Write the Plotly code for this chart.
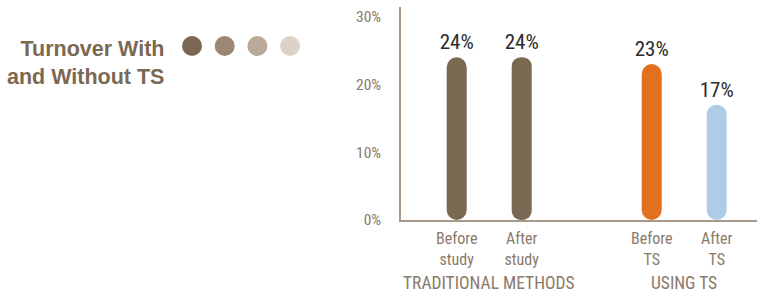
import plotly.graph_objects as go

# ---- data ----
categories = ["Before<br>study", "After<br>study", "Before<br>TS", "After<br>TS"]
positions = [0, 1, 3, 4]
values = [24, 24, 23, 17]
groups = ["TRADITIONAL METHODS", "USING TS"]
group_members = [[0, 1], [2, 3]]
bar_colors = ["#7b6852", "#7b6852", "#e2701f", "#aecbe8"]
dot_colors = ["#7b6852", "#9b8773", "#baa999", "#ddd2c8"]
y_ticks = [0, 10, 20, 30]
title_text = "Turnover With<br>and Without TS"

W, H = 757, 294
x_left_px, y_top_px, y_bot_px = 401, 7, 220
px_per_unit_x = 65.0
first_center_px = 456.7
y_max = 31.4
bar_px = 20

x0 = -(first_center_px - x_left_px) / px_per_unit_x
x1 = x0 + (W - x_left_px) / px_per_unit_x

label_col = "#8a7a6a"
font_fam = "Liberation Sans Narrow, Roboto Condensed, Liberation Sans, Arial, sans-serif"

fig = go.Figure()
# explicit base -> plotly rounds both ends of the bar (pill shape)
fig.add_trace(go.Bar(
    x=positions, y=values, base=[0] * len(values),
    marker=dict(color=bar_colors, line=dict(width=0)),
    width=bar_px / px_per_unit_x,
    text=[f"{v}%" for v in values], textposition="outside", constraintext="none",
    textfont=dict(size=21, color="#2b2b2b", family=font_fam),
    cliponaxis=False, hoverinfo="skip",
))
dot_step = 32.7
fig.add_trace(go.Scatter(
    x=list(range(len(dot_colors))), y=[0] * len(dot_colors), mode="markers",
    marker=dict(size=20, color=dot_colors, line=dict(width=0)),
    xaxis="x2", yaxis="y2", hoverinfo="skip",
))

fig.update_layout(
    width=W, height=H, margin=dict(l=0, r=0, t=0, b=0, autoexpand=False),
    paper_bgcolor="white", plot_bgcolor="white",
    showlegend=False, barcornerradius="50%",
    xaxis=dict(
        domain=[x_left_px / W, 1], range=[x0, x1], automargin=False,
        tickvals=positions, ticktext=categories,
        tickfont=dict(size=16, color=label_col, family=font_fam),
        showgrid=False, zeroline=False, showline=True,
        linecolor="#a89888", linewidth=1.5, ticks="", ticklabelstandoff=3,
    ),
    yaxis=dict(
        domain=[(H - y_bot_px) / H, (H - y_top_px) / H], range=[0, y_max], automargin=False,
        tickvals=y_ticks, ticktext=[f"{t}%" for t in y_ticks],
        tickfont=dict(size=15.5, color=label_col, family=font_fam),
        showgrid=False, zeroline=False, showline=True,
        linecolor="#a89888", linewidth=1.5, ticks="", ticklabelstandoff=15,
    ),
    xaxis2=dict(domain=[0, x_left_px / W],
                range=[-192 / dot_step, (x_left_px - 192) / dot_step],
                visible=False, anchor="y2", automargin=False),
    yaxis2=dict(domain=[0, 1], range=[-(1 - 46 / H), 46 / H],
                visible=False, anchor="x2", automargin=False),
)

for g, members in zip(groups, group_members):
    xm = sum(positions[i] for i in members) / len(members)
    fig.add_annotation(
        x=xm, xref="x", y=(H - 283) / H, yref="paper", text=g, showarrow=False,
        xanchor="center", yanchor="middle",
        font=dict(size=17.5, color=label_col, family=font_fam),
    )

fig.add_annotation(
    x=166 / W, xref="paper", y=1 - 63 / H, yref="paper",
    text=f"<b>{title_text}</b>",
    showarrow=False, xanchor="right", yanchor="middle", align="right",
    font=dict(size=21.5, color="#7b6852", family="Liberation Sans, Arial, sans-serif"),
)

# remove the browser's default 8px body margin so the figure fills the window
fig.write_html("out.html", post_script="document.body.style.margin='0';",
               config={"displayModeBar": False})
